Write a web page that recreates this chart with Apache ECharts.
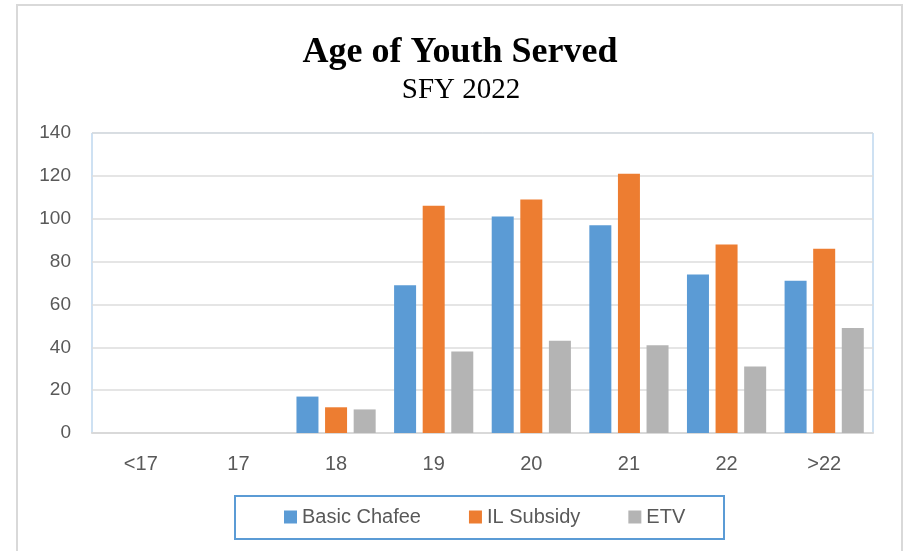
<!DOCTYPE html>
<html>
<head>
<meta charset="utf-8">
<script src="https://cdn.jsdelivr.net/npm/echarts@6/dist/echarts.min.js"></script>
<style>
  html, body { margin: 0; padding: 0; background: #fff; }
  #chart { width: 907px; height: 551px; }
</style>
</head>
<body>
<div id="chart"></div>
<script>
// categories (age) and counts
var ages = ["<17", "17", "18", "19", "20", "21", "22", ">22"];
var basicChafee = [0, 0, 17, 69, 101, 97, 74, 71];
var ilSubsidy = [0, 0, 12, 106, 109, 121, 88, 86];
var etv = [0, 0, 11, 38, 43, 41, 31, 49];
var yTicks = { min: 0, max: 140, step: 20 };

var chart = echarts.init(document.getElementById("chart"));

var labelColor = "#595959";
var sans = "Liberation Sans, Arial, sans-serif";

var option = {
  animation: false,
  title: [
    {
      text: "Age of Youth Served",
      left: 455,
      top: 30,
      textAlign: "center",
      textStyle: {
        fontFamily: "Liberation Serif, Times New Roman, serif",
        fontWeight: "bold",
        fontSize: 36,
        color: "#000"
      }
    },
    {
      text: "SFY 2022",
      left: 456,
      top: 71,
      textAlign: "center",
      textStyle: {
        fontFamily: "Liberation Serif, Times New Roman, serif",
        fontWeight: "normal",
        fontSize: 29,
        color: "#000"
      }
    }
  ],
  graphic: [
    {
      // outer chart frame
      type: "rect",
      shape: { x: 17, y: 5, width: 885, height: 570 },
      style: { fill: "none", stroke: "#d9d9d9", lineWidth: 2 },
      silent: true
    },
    {
      // legend frame
      type: "rect",
      shape: { x: 235, y: 496, width: 489, height: 43 },
      style: { fill: "none", stroke: "#5b9bd5", lineWidth: 2 },
      silent: true
    }
  ],
  legend: {
    left: 284,
    top: 507,
    padding: 0,
    itemWidth: 13,
    itemHeight: 13,
    itemGap: 48,
    icon: "rect",
    textStyle: { color: labelColor, fontSize: 20, fontFamily: sans },
    data: ["Basic Chafee", "IL Subsidy", "ETV"]
  },
  grid: {
    left: 92,
    right: 34,
    top: 133,
    bottom: 118,
    show: true,
    borderColor: "#9dc3e6",
    borderWidth: 1,
    backgroundColor: "#fff"
  },
  xAxis: {
    type: "category",
    data: ages,
    axisLine: { show: true, lineStyle: { color: "#d9d9d9", width: 2 } },
    axisTick: { show: false },
    axisLabel: { color: labelColor, fontSize: 20, fontFamily: sans, margin: 21 }
  },
  yAxis: {
    type: "value",
    min: yTicks.min,
    max: yTicks.max,
    interval: yTicks.step,
    axisLine: { show: false },
    axisTick: { show: false },
    axisLabel: { color: labelColor, fontSize: 19, fontFamily: sans, margin: 21 },
    splitLine: { lineStyle: { color: "#dcdcdc", width: 1.5 } }
  },
  series: [
    {
      name: "Basic Chafee",
      type: "bar",
      data: basicChafee,
      barWidth: 22,
      barGap: "30%",
      itemStyle: { color: "#5b9bd5" }
    },
    {
      name: "IL Subsidy",
      type: "bar",
      data: ilSubsidy,
      barWidth: 22,
      barGap: "30%",
      itemStyle: { color: "#ed7d31" }
    },
    {
      name: "ETV",
      type: "bar",
      data: etv,
      barWidth: 22,
      barGap: "30%",
      itemStyle: { color: "#b4b4b4" }
    }
  ]
};

chart.setOption(option);
</script>
</body>
</html>
